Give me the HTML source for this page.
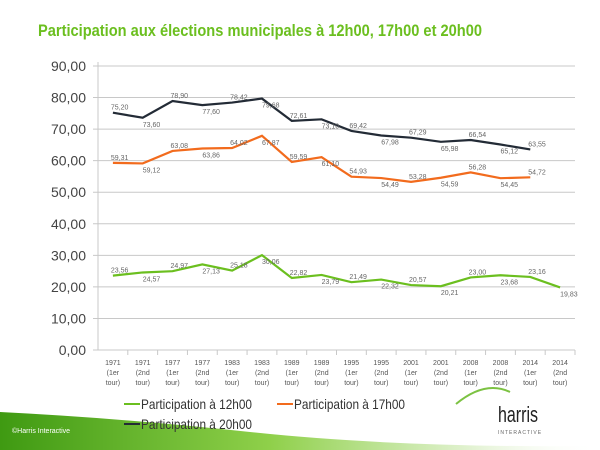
<!DOCTYPE html>
<html><head><meta charset="utf-8"><style>
body{margin:0;width:600px;height:450px;overflow:hidden;background:#fff;font-family:"Liberation Sans",sans-serif;position:relative}
svg{position:absolute;left:0;top:0}
</style></head><body>
<svg id="chart" width="600" height="450">
<defs><linearGradient id="g1" x1="0" y1="0" x2="1" y2="0"><stop offset="0" stop-color="#3f9a12"/><stop offset="0.45" stop-color="#8fd04a"/><stop offset="0.8" stop-color="#e6f4d8"/><stop offset="1" stop-color="#ffffff" stop-opacity="0"/></linearGradient></defs>
<text x="38" y="36" font-size="17" font-weight="bold" fill="#6bbf1f" textLength="444" lengthAdjust="spacingAndGlyphs">Participation aux élections municipales à 12h00, 17h00 et 20h00</text>
<path d="M0,412 Q120,418 250,432 Q400,448 600,446 L600,450 L0,450 Z" fill="url(#g1)"/>
<text x="12" y="433" font-size="7" fill="#fff">©Harris Interactive</text>
<path d="M456,404 Q485,380 510,392" stroke="#7cc242" stroke-width="2" fill="none"/>
<text x="498" y="422" font-size="22" fill="#222" textLength="40" lengthAdjust="spacingAndGlyphs">harris</text>
<text x="498" y="434" font-size="5" fill="#666" letter-spacing="1">INTERACTIVE</text>
<g id="plot"></g>
<g font-size="14" fill="#333">
<line x1="124" y1="404" x2="140" y2="404" stroke="#6bbf1f" stroke-width="2"/><text x="141" y="409" textLength="111" lengthAdjust="spacingAndGlyphs">Participation à 12h00</text>
<line x1="277" y1="404" x2="293" y2="404" stroke="#f26b1d" stroke-width="2"/><text x="294" y="409" textLength="111" lengthAdjust="spacingAndGlyphs">Participation à 17h00</text>
<line x1="124" y1="424" x2="140" y2="424" stroke="#232b36" stroke-width="2"/><text x="141" y="429" textLength="111" lengthAdjust="spacingAndGlyphs">Participation à 20h00</text>
</g>
</svg>
<script>
const years=["1971","1971","1977","1977","1983","1983","1989","1989","1995","1995","2001","2001","2008","2008","2014","2014"];
const tours=["(1er","(2nd","(1er","(2nd","(1er","(2nd","(1er","(2nd","(1er","(2nd","(1er","(2nd","(1er","(2nd","(1er","(2nd"];
const yTicks=[0,10,20,30,40,50,60,70,80,90];
const s20=[75.20,73.60,78.90,77.60,78.42,79.68,72.61,73.10,69.42,67.98,67.29,65.98,66.54,65.12,63.55];
const s17=[59.31,59.12,63.08,63.86,64.02,67.87,59.59,61.10,54.93,54.49,53.28,54.59,56.28,54.45,54.72];
const s12=[23.56,24.57,24.97,27.13,25.18,30.06,22.82,23.79,21.49,22.32,20.57,20.21,23.00,23.68,23.16,19.83];
const NS='http://www.w3.org/2000/svg';
const g=document.getElementById('plot');
const x0=98,x1=575,y0=350,y90=66;
const bw=(x1-x0)/years.length;
const X=i=>x0+bw*(i+0.5);
const Y=v=>y0-(v/90)*(y0-y90);
function el(t,a){const e=document.createElementNS(NS,t);for(const k in a)e.setAttribute(k,a[k]);g.appendChild(e);return e;}
yTicks.forEach(v=>{
 const l=el('line',{x1:x0-5,x2:x1,y1:Y(v),y2:Y(v),stroke:'#c8c8c8','stroke-width':1});
 
 
 const t=el('text',{x:x0-12,y:Y(v)+5,'text-anchor':'end','font-size':14,fill:'#444'});
 t.textContent=v.toFixed(2).replace('.',',');
 
 
});
const ax=el('line',{x1:x0,x2:x0,y1:y90-4,y2:y0,stroke:'#c8c8c8','stroke-width':1});


years.forEach((yr,i)=>{
 const tk=el('line',{x1:x0+bw*(i+1),x2:x0+bw*(i+1),y1:y0,y2:y0+5,stroke:'#c8c8c8'});
 
 
 [yr,tours[i],'tour)'].forEach((s,j)=>{
  const t=el('text',{x:X(i),y:y0+15+j*10,'text-anchor':'middle','font-size':7,fill:'#555'});
  t.textContent=s;
  
  
 });
});
function series(d,c,name){
 const p=el('polyline',{points:d.map((v,i)=>X(i)+','+Y(v)).join(' '),fill:'none',stroke:c,'stroke-width':2.2});
 
 
 d.forEach((v,i)=>{
  const t=el('text',{x:X(i)+ (i%2?0:-2),y:Y(v)+(i%2?9:-3),'font-size':7,fill:'#666'});
  t.textContent=v.toFixed(2).replace('.',',');
  
  
 });
}
series(s20,'#232b36','line-20h');
series(s17,'#f26b1d','line-17h');
series(s12,'#6bbf1f','line-12h');
</script>
</body></html>
